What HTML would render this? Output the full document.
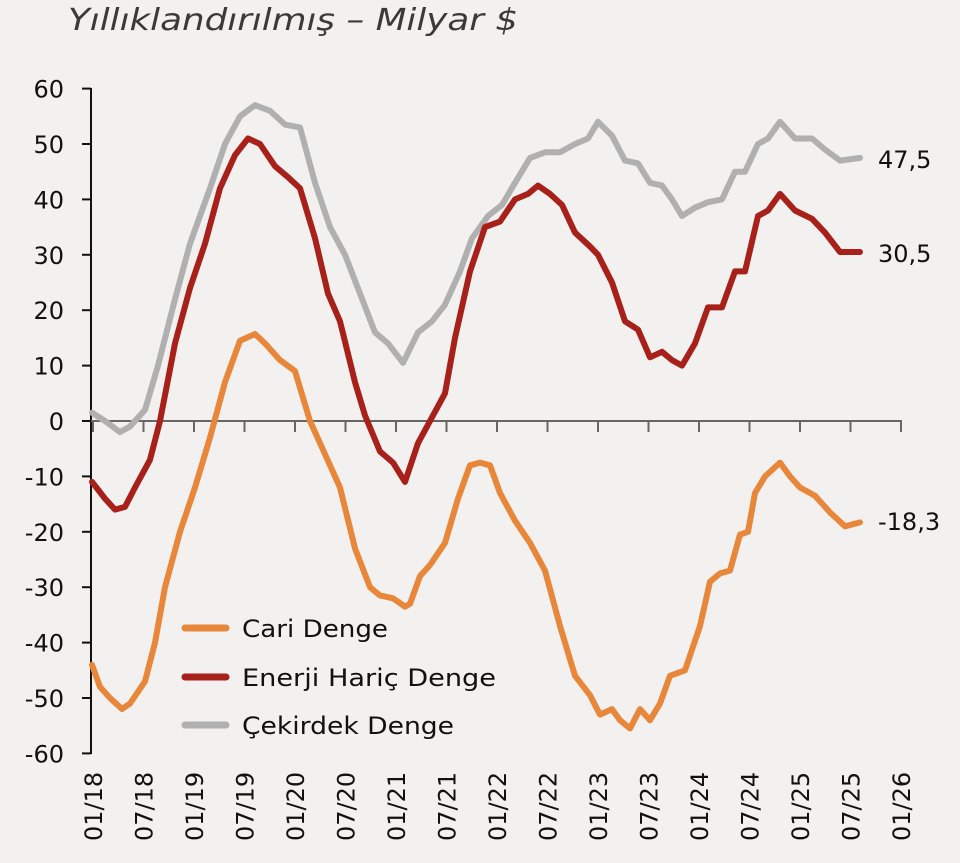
<!DOCTYPE html>
<html><head><meta charset="utf-8"><style>
body{margin:0;background:#f2f1f0;}
svg{display:block;font-family:"DejaVu Sans","Liberation Sans",sans-serif;}
</style></head><body>
<svg id="s" width="960" height="863" viewBox="0 0 960 863">
<rect width="960" height="863" fill="#f2f1f0"/>
<text x="68" y="30" font-size="30" font-style="italic" fill="#3a3a3a" textLength="450" lengthAdjust="spacingAndGlyphs">Yıllıklandırılmış – Milyar $</text>
<g id="ax"></g>
<g id="ln" fill="none" stroke-width="6" stroke-linejoin="round" stroke-linecap="round"></g>
<g font-size="24" fill="#111">
<line x1="185" y1="628" x2="226" y2="628" stroke="#e8873a" stroke-width="7" stroke-linecap="round"/>
<text x="242" y="637" textLength="146" lengthAdjust="spacingAndGlyphs">Cari Denge</text>
<line x1="185" y1="677" x2="226" y2="677" stroke="#a8201a" stroke-width="7" stroke-linecap="round"/>
<text x="242" y="686" textLength="254" lengthAdjust="spacingAndGlyphs">Enerji Hariç Denge</text>
<line x1="185" y1="725" x2="226" y2="725" stroke="#b0b0b0" stroke-width="7" stroke-linecap="round"/>
<text x="242" y="734" textLength="212" lengthAdjust="spacingAndGlyphs">Çekirdek Denge</text>
<text x="878" y="168">47,5</text>
<text x="878" y="262">30,5</text>
<text x="878" y="530">-18,3</text>
</g>
</svg>
<script>
const Y=v=>421-5.54*v;
let ax='';
ax+='<line x1="91" y1="88" x2="91" y2="754" stroke="#111" stroke-width="2"/>';
for(let v=-60;v<=60;v+=10){const y=Y(v);ax+=`<line x1="82" y1="${y}" x2="91" y2="${y}" stroke="#111" stroke-width="2"/><text x="64" y="${y+9}" text-anchor="end" font-size="24" fill="#111">${v}</text>`;}
ax+='<line x1="91" y1="421" x2="902" y2="421" stroke="#666" stroke-width="2"/>';
const labs=['01/18','07/18','01/19','07/19','01/20','07/20','01/21','07/21','01/22','07/22','01/23','07/23','01/24','07/24','01/25','07/25','01/26'];
labs.forEach((l,i)=>{const x=93+i*50.5;ax+=`<line x1="${x}" y1="421" x2="${x}" y2="432" stroke="#666" stroke-width="2"/><text transform="translate(${x+9},841) rotate(-90)" font-size="24" fill="#111">${l}</text>`;});
document.getElementById('ax').innerHTML=ax;
const O=[[92,-44],[100,-48],[110,-50],[122,-52],[130,-51],[145,-47],[155,-40],[165,-30],[180,-20],[195,-12],[210,-3],[225,7],[240,14.5],[255,15.7],[265,14],[280,11],[295,9],[310,0],[325,-6],[340,-12],[355,-23],[370,-30],[380,-31.5],[393,-32],[405,-33.5],[410,-33],[420,-28],[430,-26],[445,-22],[458,-14],[470,-8],[480,-7.5],[490,-8],[500,-13],[515,-18],[530,-22],[545,-27],[560,-37],[575,-46],[590,-49.5],[600,-53],[612,-52],[620,-54],[630,-55.5],[640,-52],[650,-54],[660,-51],[670,-46],[685,-45],[700,-37],[710,-29],[720,-27.5],[730,-27],[740,-20.5],[748,-20],[755,-13],[765,-10],[780,-7.5],[790,-10],[800,-12],[815,-13.5],[830,-16.5],[845,-19],[860,-18.3]];
const R=[[92,-11],[105,-14],[115,-16],[125,-15.5],[135,-12],[150,-7],[160,0],[175,14],[190,24],[205,32],[220,42],[235,48],[248,51],[260,50],[275,46],[288,44],[300,42],[315,33],[328,23],[340,18],[355,7],[365,1],[380,-5.5],[393,-7.5],[405,-11],[418,-4],[430,0],[445,5],[455,15],[470,27],[485,35],[500,36],[515,40],[528,41],[538,42.5],[550,41],[562,39],[575,34],[590,31.5],[598,30],[612,25],[625,18],[638,16.5],[650,11.5],[662,12.5],[672,11],[682,10],[695,14],[708,20.5],[722,20.5],[735,27],[745,27],[758,37],[768,38],[780,41],[795,38],[812,36.5],[825,34],[840,30.5],[860,30.5]];
const G=[[92,1.5],[105,0],[120,-2],[130,-1],[145,2],[158,10],[175,22],[190,32],[210,42],[225,50],[240,55],[255,57],[270,56],[285,53.5],[300,53],[315,43],[330,35],[345,30],[360,23],[375,16],[388,14],[403,10.5],[418,16],[432,18],[445,21],[460,27],[472,33],[488,37],[502,39],[515,43],[530,47.5],[545,48.5],[560,48.5],[575,50],[588,51],[598,54],[612,51.5],[625,47],[638,46.5],[650,43],[662,42.5],[672,40],[682,37],[695,38.5],[708,39.5],[722,40],[735,45],[745,45],[758,50],[768,51],[780,54],[795,51],[812,51],[825,49],[840,47],[860,47.5]];
const pl=(d,c)=>`<polyline stroke="${c}" points="${d.map(p=>p[0]+','+Y(p[1]).toFixed(1)).join(' ')}"/>`;
document.getElementById('ln').innerHTML=pl(G,'#b0b0b0')+pl(O,'#e8873a')+pl(R,'#a8201a');
</script>
</body></html>
